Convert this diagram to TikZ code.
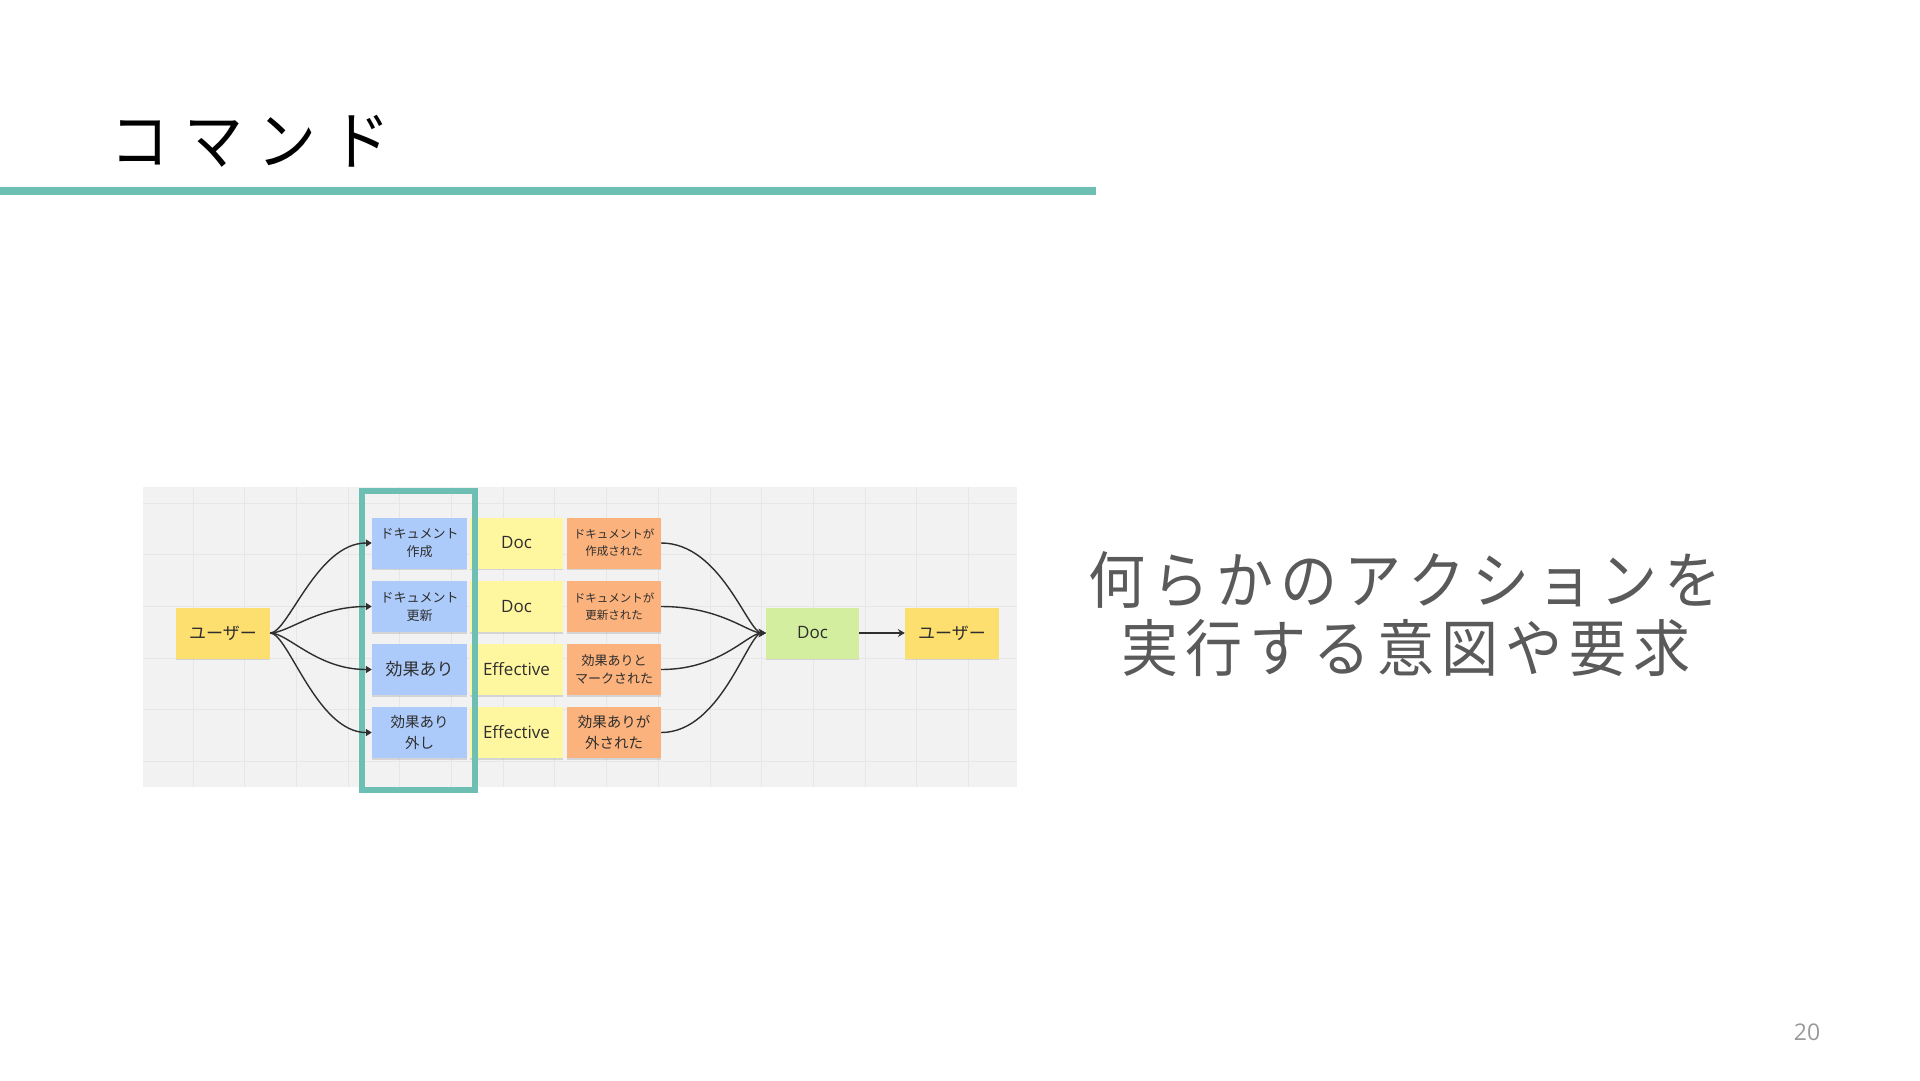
\documentclass[tikz,border=0pt]{standalone}
\usepackage{fontspec}
\newfontfamily\jp{Noto Sans CJK JP}
\newfontfamily\jpwide[FakeStretch=0.92]{Noto Sans CJK JP}
\newfontfamily\lat{Open Sans}
\usetikzlibrary{arrows.meta,shadows}
\definecolor{tealc}{HTML}{6DBFB4}
\definecolor{bgc}{HTML}{F2F2F2}
\definecolor{gridc}{HTML}{E6E6E6}
\definecolor{usery}{HTML}{FCDF6E}
\definecolor{docy}{HTML}{FFF6A0}
\definecolor{blueb}{HTML}{ADCBFA}
\definecolor{orangeb}{HTML}{FBB27C}
\definecolor{greenb}{HTML}{D3EE9F}
\definecolor{ink}{HTML}{2E2E2E}
\definecolor{bodygray}{HTML}{5A5A5A}
\definecolor{pagegray}{HTML}{9A9A9A}
\tikzset{
  sticky/.style={inner sep=0pt, minimum height=51pt, text=ink, align=center,
    drop shadow={shadow xshift=0pt, shadow yshift=-1.5pt, opacity=0.12, fill=black}},
  nuser/.style={sticky, fill=usery, minimum width=94pt, font=\jp\fontsize{17}{21}\selectfont},
  nblue/.style={sticky, fill=blueb, minimum width=95pt},
  ndoc/.style={sticky, fill=docy, minimum width=93pt, font=\lat\fontsize{17}{21}\selectfont},
  norange/.style={sticky, fill=orangeb, minimum width=94pt},
  ngreen/.style={sticky, fill=greenb, minimum width=93pt, font=\lat\fontsize{17}{21}\selectfont},
  fsmall/.style={font=\jp\fontsize{13}{18}\selectfont},
  fmid/.style={font=\jp\fontsize{14.5}{21}\selectfont},
  fbig/.style={font=\jp\fontsize{17}{21}\selectfont},
  ftiny/.style={font=\jp\fontsize{11.5}{17}\selectfont},
  fom/.style={font=\jp\fontsize{13}{18}\selectfont},
  conL/.style={draw=ink, line width=1.4pt, -{Triangle[length=6pt,width=7pt]}},
  conR/.style={draw=ink, line width=1.4pt, -{Stealth[length=7pt,width=8pt,inset=2.5pt]}},
}
\begin{document}
\begin{tikzpicture}[x=1pt,y=-1pt]
\useasboundingbox (0,0) rectangle (1920,1080);
\fill[white] (0,0) rectangle (1920,1080);

% title
\node[anchor=base west, inner sep=0pt, font=\jpwide\fontsize{64}{64}\selectfont, text=black] (title) at (110,164)
  {コ\kern15ptマ\kern15ptン\kern15ptド};
\fill[tealc] (0,187) rectangle (1096,195);

% body text
\node[anchor=base, inner sep=0pt, font=\jpwide\fontsize{62}{62}\selectfont, text=bodygray] (txt1) at (1405,603)
  {何\kern7ptら\kern7ptか\kern7ptの\kern7ptア\kern7ptク\kern7ptシ\kern7ptョ\kern7ptン\kern7ptを};
\node[anchor=base, inner sep=0pt, font=\jpwide\fontsize{62}{62}\selectfont, text=bodygray] (txt2) at (1406,671)
  {実\kern7pt行\kern7ptす\kern7ptる\kern7pt意\kern7pt図\kern7ptや\kern7pt要\kern7pt求};

% page number
\node[inner sep=0pt, font=\lat\fontsize{23}{23}\selectfont, text=pagegray] (pnum) at (1807,1032) {20};

% diagram background and grid
\fill[bgc] (143,487) rectangle (1017,787);
\foreach \gx in {193,244.7,296.4,348.1,399.8,451.5,503.2,554.9,606.6,658.3,710,761.7,813.4,865.1,916.8,968.5}
  \draw[gridc, line width=1pt] (\gx,487) -- (\gx,787);
\foreach \gy in {503,554.7,606.4,658.1,709.8,761.5}
  \draw[gridc, line width=1pt] (143,\gy) -- (1017,\gy);

% notes
\node[nuser] (userL) at (223,633) {ユーザー};

\node[nblue, fsmall] (b1) at (419.5,543) {ドキュメント\\作成};
\node[nblue, fsmall] (b2) at (419.5,606.5) {ドキュメント\\更新};
\node[nblue, fbig] (b3) at (419.5,669.5) {効果あり};
\node[nblue, fmid] (b4) at (419.5,732.5) {効果あり\\外し};

\node[ndoc] (d1) at (516.5,543) {Doc};
\node[ndoc] (d2) at (516.5,606.5) {Doc};
\node[ndoc] (d3) at (516.5,669.5) {Effective};
\node[ndoc] (d4) at (516.5,732.5) {Effective};

\node[norange, ftiny] (o1) at (614,543) {ドキュメントが\\作成された};
\node[norange, ftiny] (o2) at (614,606.5) {ドキュメントが\\更新された};
\node[norange, fom] (o3) at (614,669.5) {効果ありと\\マークされた};
\node[norange, fmid] (o4) at (614,732.5) {効果ありが\\外された};

\node[ngreen] (doc) at (812.5,633) {Doc};
\node[nuser] (userR) at (952,633) {ユーザー};

% highlight box
\draw[tealc, line width=6pt] (362,491) rectangle (475,790);

% connectors
\foreach \b in {b1,b2,b3,b4}
  \draw[conL] (userL.east) .. controls +(18,0) and +(-55,0) .. (\b.west);
\foreach \o in {o1,o2,o3,o4}
  \draw[conR] (\o.east) .. controls +(60,0) and +(-18,0) .. (doc.west);
\draw[conR] (doc.east) -- (userR.west);
\end{tikzpicture}
\end{document}
